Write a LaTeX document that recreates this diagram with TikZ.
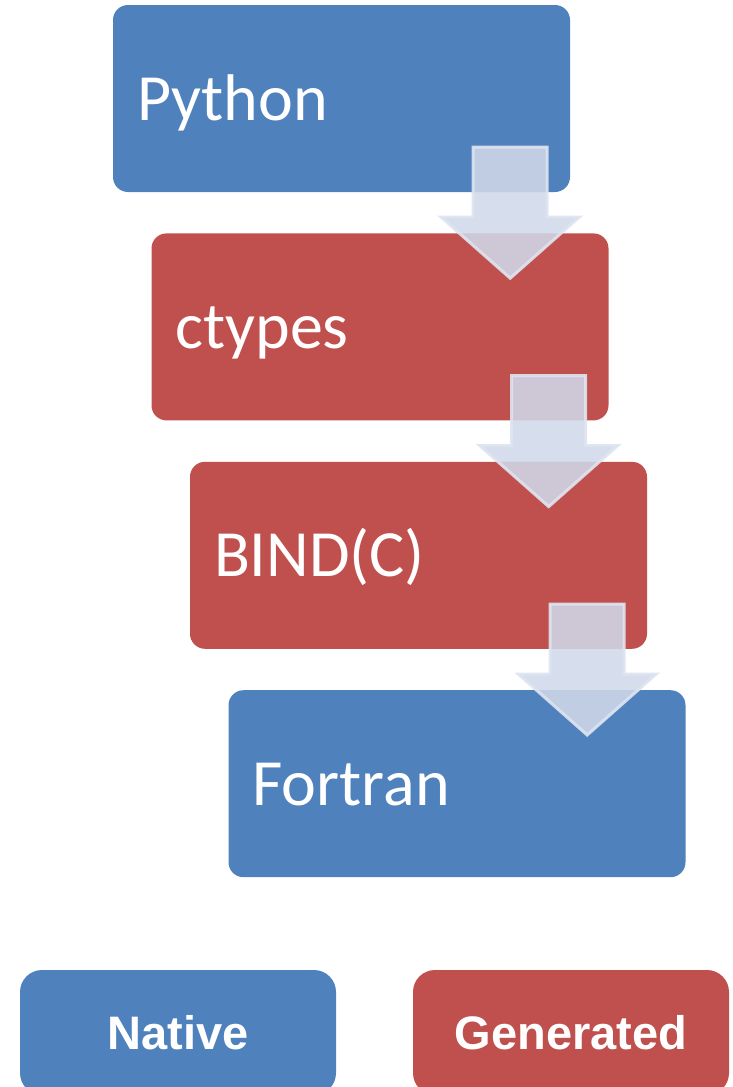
\documentclass[tikz,border=0pt]{standalone}
\usepackage{fontspec}
\setmainfont{Carlito}
\newfontfamily\legendfont{Liberation Sans}
\usetikzlibrary{positioning,calc}
\definecolor{nativeblue}{HTML}{4F81BD}
\definecolor{genred}{HTML}{C0504D}
\definecolor{arrowfill}{HTML}{D0D8E9}
\definecolor{arrowedge}{HTML}{DEE4F0}
\begin{document}
\begin{tikzpicture}[x=1pt,y=-1pt,
  layer/.style={fill=#1,draw=none,rounded corners=15pt,
    minimum width=457pt,minimum height=187pt,inner sep=0pt},
  layertext/.style={anchor=base west,text=white,inner sep=0pt,
    font=\fontsize{66}{70}\selectfont},
  key/.style={fill=#1,draw=none,rounded corners=22pt,
    minimum width=316pt,minimum height=125pt,inner sep=0pt},
  keytext/.style={anchor=base,text=white,inner sep=0pt,
    font=\legendfont\bfseries\fontsize{47}{50}\selectfont},
  blockarrow/.pic={
    \filldraw[fill=arrowfill,draw=arrowedge,line width=3pt,
      fill opacity=0.88,draw opacity=0.9,line join=miter]
      (0,0) -- (-69,-61) -- (-37,-61) -- (-37,-131)
      -- (37,-131) -- (37,-61) -- (69,-61) -- cycle;
  }]
\clip (0,0) rectangle (732,1087);

% the four layers, each stepped down and to the right
\node[layer=nativeblue] (python) at (341.5,98.5) {};
\node[layer=genred,below=41pt of python,xshift=38.5pt] (ctypes) {};
\node[layer=genred,below=41pt of ctypes,xshift=38.5pt] (bindc) {};
\node[layer=nativeblue,below=41pt of bindc,xshift=38.5pt] (fortran) {};

\node[layertext] (pythontext) at ($(python.west)+(24,21.5)$) {Python};
\node[layertext] (ctypestext) at ($(ctypes.west)+(24,21.5)$) {ctypes};
\node[layertext] (bindctext) at ($(bindc.west)+(24,21.5)$) {BIND(C)};
\node[layertext] (fortrantext) at ($(fortran.west)+(24,21.5)$) {Fortran};

% arrows between layers
\pic at ($(python.south east)+(-60,86)$) {blockarrow};
\pic at ($(ctypes.south east)+(-60,86)$) {blockarrow};
\pic at ($(bindc.south east)+(-60,86)$) {blockarrow};

% legend
\node[key=nativeblue] (native) at (178,1032.5) {};
\node[key=genred] (generated) at (571,1032.5) {};
\node[keytext] (nativetext) at ($(native.center)+(0,16.5)$) {Native};
\node[keytext] (generatedtext) at ($(generated.center)+(0,16.5)$) {Generated};
\end{tikzpicture}
\end{document}
